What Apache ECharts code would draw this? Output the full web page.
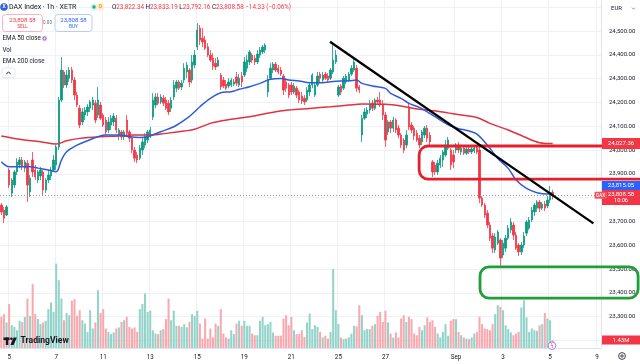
<!DOCTYPE html>
<html><head><meta charset="utf-8">
<script src="https://cdn.jsdelivr.net/npm/echarts@6/dist/echarts.min.js"></script>
<style>html,body{margin:0;padding:0;background:#fff}#c{width:640px;height:364px}</style>
</head><body><div id="c"></div>
<script>
// ---------- DATA: hourly candles [open, close, low, high] per session ----------
const aug04 = [[23769,23740,23727,23777],[23748,23714,23693,23761],[23727,23761,23723,23769]];
const aug05 = [[23916,23853,23840,23924],[23819,23874,23803,23882],[23853,23908,23840,23916],[23908,23950,23895,23966],[23937,23958,23924,23971],[23958,23933,23916,23971],[23924,23950,23908,23958],[23945,23853,23782,23958],[23824,23882,23803,23895]];
const aug06 = [[23958,23908,23887,23992],[23916,23887,23874,23937],[23874,23908,23861,23916],[23891,23916,23874,23929],[23908,23832,23811,23916],[23832,23874,23819,23882],[23874,23895,23861,23916],[23891,23916,23874,23929],[23916,23958,23908,23979]];
const aug07 = [[23937,24013,23916,24021],[24013,24210,24000,24223],[24210,24336,24202,24391],[24328,24273,24260,24336],[24273,24315,24260,24336],[24302,24336,24286,24349],[24336,24294,24281,24349],[24294,24231,24210,24307],[24231,24189,24181,24244]];
const aug08 = [[24176,24105,24092,24189],[24118,24160,24105,24176],[24147,24168,24126,24181],[24160,24181,24143,24193],[24176,24202,24160,24210],[24189,24210,24168,24223],[24197,24126,24113,24210],[24147,24210,24134,24265],[24189,24134,24126,24202]];
const aug11 = [[24147,24105,24097,24155],[24126,24076,24063,24139],[24084,24118,24071,24139],[24105,24134,24084,24147],[24118,24143,24101,24155],[24134,24084,24071,24147],[24063,24084,24042,24092],[24076,24055,24042,24084],[24055,24076,24042,24084]];
const aug12 = [[24126,24071,24055,24147],[24076,24050,24034,24084],[24050,24000,23987,24059],[24000,23966,23950,24013],[23979,23958,23945,23992],[23966,24008,23958,24021],[24000,24034,23979,24050],[24021,24055,24008,24071],[24042,24076,24029,24084]];
const aug13 = [[24063,24084,24050,24097],[24139,24210,24126,24239],[24189,24223,24176,24239],[24223,24197,24189,24239],[24202,24223,24193,24235],[24218,24197,24185,24231],[24210,24176,24168,24223],[24197,24160,24147,24210],[24176,24210,24160,24223]];
const aug14 = [[24223,24273,24210,24294],[24260,24286,24244,24294],[24286,24260,24252,24294],[24265,24281,24252,24294],[24294,24344,24281,24365],[24328,24357,24302,24370],[24336,24286,24265,24344],[24294,24370,24281,24399],[24357,24399,24344,24420]];
const aug15 = [[24433,24504,24420,24533],[24512,24462,24441,24525],[24470,24454,24433,24512],[24462,24428,24420,24479],[24433,24399,24391,24449],[24399,24378,24370,24420],[24386,24353,24336,24407],[24365,24349,24336,24386],[24353,24378,24349,24391]];
const aug18 = [[24315,24265,24252,24323],[24294,24269,24260,24307],[24277,24260,24252,24294],[24269,24286,24260,24302],[24273,24294,24265,24302],[24277,24286,24269,24298],[24307,24281,24269,24328],[24273,24302,24265,24319],[24311,24286,24265,24328]];
const aug19 = [[24315,24370,24307,24391],[24344,24378,24328,24399],[24370,24412,24357,24420],[24399,24378,24365,24407],[24386,24370,24357,24399],[24370,24403,24361,24420],[24399,24420,24386,24433],[24412,24433,24403,24441],[24420,24441,24407,24449]];
const aug20 = [[24244,24294,24223,24315],[24302,24344,24294,24365],[24336,24361,24323,24370],[24361,24336,24328,24370],[24344,24328,24319,24357],[24336,24319,24311,24349],[24311,24252,24231,24319],[24286,24260,24244,24302],[24273,24231,24218,24281]];
const aug21 = [[24273,24244,24231,24286],[24244,24269,24235,24281],[24260,24231,24218,24269],[24244,24210,24197,24252],[24227,24206,24193,24244],[24218,24202,24189,24231],[24210,24252,24202,24265],[24244,24273,24227,24286],[24273,24315,24260,24323]];
const aug22 = [[24231,24273,24223,24286],[24273,24311,24265,24328],[24319,24302,24286,24328],[24294,24315,24286,24328],[24319,24302,24294,24328],[24311,24294,24286,24323],[24302,24336,24294,24344],[24328,24378,24319,24441],[24370,24399,24361,24420]];
const aug25 = [[24231,24265,24223,24273],[24269,24244,24231,24277],[24260,24302,24252,24311],[24286,24311,24277,24319],[24294,24319,24286,24328],[24319,24344,24311,24357],[24336,24370,24328,24386],[24344,24260,24244,24357],[24265,24252,24239,24273]];
const aug26 = [[24063,24134,24034,24147],[24134,24160,24126,24176],[24151,24168,24134,24181],[24168,24193,24155,24210],[24197,24176,24164,24210],[24176,24210,24168,24218],[24210,24202,24189,24223],[24210,24189,24181,24244],[24193,24147,24126,24210]];
const aug27 = [[24147,24042,24013,24160],[24076,24118,24063,24126],[24118,24092,24071,24126],[24092,24126,24076,24139],[24126,24084,24071,24134],[24092,24063,24050,24105],[24063,24021,24008,24071],[24042,24000,23987,24050],[24021,24063,24008,24084]];
const aug28 = [[24181,24097,24084,24197],[24105,24084,24071,24118],[24092,24059,24042,24101],[24071,24042,24034,24084],[24050,24021,24008,24063],[24034,24076,24021,24084],[24063,24092,24050,24101],[24092,24050,24034,24105],[24063,24034,24013,24076]];
const aug29 = [[23950,23908,23887,23958],[23937,23908,23895,23950],[23908,23945,23895,23958],[23937,23966,23924,23979],[23958,23992,23929,24000],[23979,24021,23971,24042],[24008,24042,24000,24055],[24000,23937,23916,24008],[23979,23950,23924,24000]];
const sep01 = [[24000,24021,23987,24029],[24021,24000,23987,24034],[23992,24008,23979,24017],[24008,23987,23979,24017],[23987,24004,23979,24013],[24004,23992,23983,24017],[23992,24004,23983,24013],[23996,24008,23987,24021],[24008,23992,23983,24017]];
const sep02 = [[24000,23798,23777,24013],[23798,23769,23761,23807],[23769,23727,23714,23777],[23735,23685,23672,23748],[23685,23630,23618,23698],[23639,23588,23567,23651],[23580,23635,23567,23651],[23609,23656,23601,23664],[23622,23546,23509,23630]];
const sep03 = [[23559,23609,23546,23622],[23588,23630,23572,23643],[23630,23672,23622,23685],[23664,23698,23651,23714],[23685,23643,23622,23698],[23643,23588,23580,23656],[23601,23572,23555,23609],[23572,23601,23559,23614],[23601,23639,23588,23656]];
const sep04 = [[23651,23698,23639,23706],[23672,23706,23664,23719],[23706,23748,23698,23761],[23740,23769,23723,23777],[23756,23782,23740,23790],[23782,23756,23740,23790],[23756,23773,23748,23782],[23773,23756,23744,23786],[23765,23790,23756,23807]];
const sep05 = [[23790,23822,23777,23849],[23822.34,23808.58,23792.16,23833.19]];

// ---------- DATA: volume (millions) per bar, by week ----------
const volWk1 = [5.6,6.1,4.6,7.9,4.1,3.8,3.2,4.9,4.7,5.6,8.9,5.8,11.5,6.1,5.2,4.3,4.6,4.9,7.0,8.2,6.5,15.2,12.2,8.9,5.0,6.3,5.9,8.5,8.8,5.8,6.8,5.0,4.4,2.9,6.8,3.5,4.6,10.4,6.3];
const volWk2 = [7.0,3.5,2.9,2.5,2.8,3.5,3.7,4.7,5.0,5.6,3.8,3.5,3.7,2.9,7.0,7.9,9.8,6.5,6.7,3.2,2.6,2.5,3.2,3.4,5.2,8.9,5.0,6.7,4.0,4.0,3.8,4.3,3.7,4.7,6.1,5.8,6.7,4.4,1.7,5.3,1.7,3.5,1.9,4.4,4.0];
const volWk3 = [7.0,2.6,1.9,1.7,3.2,2.5,4.4,4.9,4.0,4.9,4.0,4.0,2.6,2.3,2.3,4.9,5.6,4.1,4.3,4.7,2.8,2.2,2.2,2.2,5.3,5.9,4.1,5.6,3.2,2.5,2.5,3.2,2.0,4.6,6.2,3.4,4.1,3.8,2.9,1.9,2.2,1.7,2.9,14.2,6.8];
const volWk4 = [4.3,1.9,1.6,1.7,1.9,2.6,4.0,3.9,7.7,5.9,3.2,3.4,3.4,4.0,4.3,5.8,6.5,4.7,6.7,4.6,2.6,1.9,2.8,1.9,5.3,5.9,4.7,5.6,5.2,2.6,2.3,3.8,3.2,4.1,5.5,4.7,5.0,3.8,2.6,1.9,2.9,4.3,2.2,4.9,5.2];
const volWk5 = [5.2,2.9,2.3,1.9,1.7,1.6,1.9,2.6,2.9,5.6,4.3,3.5,3.4,3.2,4.3,6.1,7.7,7.4,6.8,4.1,3.4,2.8,2.3,2.6,2.9,7.3,8.6,5.5,2.9,3.5,3.2,3.1,4.1,4.3,6.3,5.3,5.0,1.43];

// ---------- DATA: EMA readings [barIndex, value] ----------
const ema50Pts = [[0,23951],[3,23930],[7,23930],[11,23930],[14,23924],[18,23916],[21,23909],[23,23958],[25,23993],[29,24021],[33,24039],[37,24056],[40,24063],[45,24063],[49,24056],[53,24053],[56,24056],[61,24077],[66,24098],[71,24133],[74,24161],[76,24182],[80,24217],[84,24241],[88,24245],[91,24255],[95,24266],[99,24280],[103,24297],[107,24301],[110,24294],[114,24290],[118,24283],[122,24283],[126,24287],[130,24290],[133,24291],[136,24294],[138,24280],[142,24269],[147,24259],[149,24238],[153,24217],[156,24196],[160,24179],[164,24154],[168,24126],[172,24101],[176,24087],[179,24080],[182,24067],[186,24021],[190,23965],[194,23923],[197,23874],[201,23839],[205,23821],[209,23815],[211,23815.05]];
const ema200Pts = [[0,24059],[7,24045],[15,24035],[21,24025],[25,24039],[30,24049],[38,24056],[45,24059],[50,24063],[57,24063],[63,24070],[70,24080],[74,24087],[80,24112],[88,24129],[95,24140],[103,24157],[110,24168],[118,24175],[126,24182],[133,24189],[138,24193],[147,24192],[153,24185],[160,24171],[168,24161],[176,24147],[182,24137],[187,24112],[194,24084],[200,24056],[206,24031],[211,24027.36]];

// ---------- DATA: drawings (bar index, price) ----------
const trendLine = [[125.8,24455],[226.6,23692]];
const redZone = [159.9,24017,248.3,23878];
const greenZone = [183.2,23509,243.7,23378];

// ---------- DATA: sessions & tick labels ----------
const sessionDays = ['08-04','08-05','08-06','08-07','08-08','08-11','08-12','08-13','08-14','08-15','08-18','08-19','08-20','08-21','08-22','08-25','08-26','08-27','08-28','08-29','09-01','09-02','09-03','09-04','09-05','09-08','09-09'];
const tickLabels = {'08-05':'5','08-07':'7','08-11':'11','08-13':'13','08-15':'15','08-19':'19','08-21':'21','08-25':'25','08-27':'27','09-01':'Sep','09-03':'3','09-05':'5','09-09':'9'};
const changeText = '\u221214.33 (\u22120.06%)';
const countdown = '10:06';

// ---------- build ----------
const cats = [];
sessionDays.forEach(d => { const h0 = d === '08-04' ? 15 : 9; const h1 = d === '09-09' ? 10 : 17; for (let h = h0; h <= h1; h++) cats.push(d + ' ' + h); });
const ohlc = [].concat(aug04,aug05,aug06,aug07,aug08,aug11,aug12,aug13,aug14,aug15,aug18,aug19,aug20,aug21,aug22,aug25,aug26,aug27,aug28,aug29,sep01,sep02,sep03,sep04,sep05);
const vols = [].concat(volWk1,volWk2,volWk3,volWk4,volWk5);
const UP = '#089981', DN = '#f23645', UPV = '#93d3c9', DNV = '#f8a9af';
const F = 'Roboto, "Noto Sans", sans-serif';
const fmt = v => v.toLocaleString('en-US',{minimumFractionDigits:2,maximumFractionDigits:2});
const isTick = (i, v) => v.slice(-2) === ' 9' && !!tickLabels[v.slice(0,5)];
const last = ohlc[ohlc.length-1];

const chart = echarts.init(document.getElementById('c'), null, {renderer:'canvas', width:640, height:364});
chart.setOption({
  animation:false, backgroundColor:'#ffffff',
  grid:[{left:0,right:39,top:-16.6,height:380.9,outerBoundsMode:'none',containLabel:false},
        {left:0,right:39,bottom:16,height:100,outerBoundsMode:'none'},
        {left:0,right:39,top:0,bottom:16,outerBoundsMode:'none'}],
  xAxis:[
    {type:'category',gridIndex:0,data:cats,show:false},
    {type:'value',gridIndex:0,min:-0.5,max:cats.length-0.5,show:false},
    {type:'category',gridIndex:1,data:cats,axisLine:{show:false},axisTick:{show:false},splitLine:{show:false},
     axisLabel:{interval:isTick,formatter:v=>tickLabels[v.slice(0,5)]||'',fontSize:6.3,color:'#131722',margin:6,fontFamily:F}},
    {type:'category',gridIndex:2,data:cats,axisLine:{show:true,lineStyle:{color:'#e0e3eb'}},axisTick:{show:false},axisLabel:{show:false},
     splitLine:{show:true,interval:isTick,lineStyle:{color:'#eef1f6',width:1}}}
  ],
  yAxis:[
    {type:'value',gridIndex:0,position:'right',min:23100,max:24700,interval:100,axisLine:{show:false},axisTick:{show:false},
     axisLabel:{margin:8,fontSize:6,color:'#131722',fontFamily:F,formatter:v=>(v>=23200&&v<=24500)?fmt(v):''},
     splitLine:{lineStyle:{color:'#eef1f6',width:1}}},
    {type:'value',gridIndex:1,min:0,max:18,show:false,splitLine:{show:false}},
    {type:'value',gridIndex:2,position:'right',axisLine:{show:true,lineStyle:{color:'#e0e3eb'}},axisLabel:{show:false},axisTick:{show:false},splitLine:{show:false}}
  ],
  series:[
    {type:'bar',xAxisIndex:2,yAxisIndex:1,barWidth:'78%',z:1,
     data:vols.map((v,i)=>({value:v,itemStyle:{color:ohlc[i][1]>=ohlc[i][0]?UPV:DNV}}))},
    {type:'candlestick',xAxisIndex:0,yAxisIndex:0,data:ohlc,barWidth:1.9,z:2,
     itemStyle:{color:UP,color0:DN,borderColor:UP,borderColor0:DN,borderWidth:0.8},
     markLine:{symbol:'none',silent:true,label:{show:false},lineStyle:{type:[1,2],color:'#9598a1',width:1},data:[{yAxis:last[1]}]}},
    {type:'line',xAxisIndex:1,yAxisIndex:0,data:ema200Pts,smooth:0.35,showSymbol:false,z:3,lineStyle:{color:'#e0323f',width:1.5}},
    {type:'line',xAxisIndex:1,yAxisIndex:0,data:ema50Pts,smooth:0.35,showSymbol:false,z:3,lineStyle:{color:'#2f5bdb',width:1.5}},
    {type:'line',xAxisIndex:1,yAxisIndex:0,data:trendLine,showSymbol:false,z:6,lineStyle:{color:'#000000',width:2.3}},
    {type:'custom',xAxisIndex:1,yAxisIndex:0,z:6,clip:false,silent:true,
     data:[redZone.concat([0]),greenZone.concat([1])],
     renderItem:(p,api)=>{const a=api.coord([api.value(0),api.value(1)]),b=api.coord([api.value(2),api.value(3)]);
       const col=api.value(4)===0?'#e4202c':'#1f9e3c';
       return {type:'rect',shape:{x:a[0],y:a[1],width:b[0]-a[0],height:b[1]-a[1],r:9},style:{fill:null,stroke:col,lineWidth:2.8}};}}
  ]
});

const yPx = v => chart.convertToPixel({yAxisIndex:0}, v);
const vPx = v => chart.convertToPixel({yAxisIndex:1}, v);
const T = (x,y,text,o) => ({type:'text',x,y,z:100,style:Object.assign({text,fill:'#131722',fontSize:6.3,fontFamily:F,align:'left',verticalAlign:'middle'},o||{})});
const R = (x,y,w,h,o) => ({type:'rect',z:99,shape:{x,y,width:w,height:h,r:(o&&o.r)||0},style:Object.assign({fill:'#fff'},o&&o.style||{})});

const e200 = ema200Pts[ema200Pts.length-1][1], e50 = ema50Pts[ema50Pts.length-1][1];
const yE = yPx(e200), yC = yPx(last[1]), yV = vPx(vols[vols.length-1]);
const g = [
  {type:'circle',z:99,shape:{cx:4,cy:7,r:3.8},style:{fill:'#2f62d8'}},
  T(4,7.2,'X',{fill:'#fff',fontSize:5,fontWeight:'bold',align:'center'}),
  T(9,7,'DAX Index \u00b7 1h \u00b7 XETR',{fontSize:7}),
  {type:'circle',z:99,shape:{cx:94,cy:7,r:3.4},style:{fill:'#d6f1ec'}},
  {type:'circle',z:100,shape:{cx:94,cy:7,r:1.7},style:{fill:'#22ab94'}},
  {type:'circle',z:99,shape:{cx:100.5,cy:7,r:3.8},style:{fill:'#ffecd6'}},
  T(100.5,7.2,'D',{fill:'#ff9800',fontSize:5,fontWeight:'bold',align:'center'}),
  T(112,7,'{k|O}{v|'+fmt(last[0])+'} {k|H}{v|'+fmt(last[3])+'} {k|L}{v|'+fmt(last[2])+'} {k|C}{v|'+fmt(last[1])+'} {v|'+changeText+'}',
    {rich:{k:{fill:'#131722',fontSize:6.3,fontFamily:F},v:{fill:'#f23645',fontSize:6.3,fontFamily:F}}}),
  R(2.5,14.5,40,17,{r:3,style:{fill:'#fff',stroke:'#f5a3aa',lineWidth:0.8}}),
  T(22.5,20,fmt(last[1]),{fill:'#f23645',fontSize:6,align:'center'}),
  T(22.5,27,'SELL',{fill:'#f23645',fontSize:4.8,align:'center'}),
  T(47.5,23,'0.00',{fill:'#6a6d78',fontSize:4.6,align:'center'}),
  R(55,14.5,37,17,{r:3,style:{fill:'#fff',stroke:'#a9bff3',lineWidth:0.8}}),
  T(73.5,20,fmt(last[1]),{fill:'#2962ff',fontSize:6,align:'center'}),
  T(73.5,27,'BUY',{fill:'#2962ff',fontSize:4.8,align:'center'}),
  T(2.5,38.5,'EMA 50 close'),
  {type:'circle',z:99,shape:{cx:44.5,cy:38.5,r:3},style:{fill:'#ece3fb'}},
  {type:'circle',z:100,shape:{cx:44.5,cy:38.5,r:1.6},style:{fill:'none',stroke:'#7e57c2',lineWidth:1}},
  T(2.5,50,'Vol'),
  T(2.5,61,'EMA 200 close'),
  R(2,68,13,9.5,{r:2,style:{fill:'#fff',stroke:'#e0e3eb',lineWidth:0.8}}),
  {type:'polyline',z:100,shape:{points:[[6.3,74.2],[8.5,71.8],[10.7,74.2]]},style:{stroke:'#131722',lineWidth:0.9,fill:null}},
  T(611,8.5,'EUR',{fontSize:6}),
  {type:'polyline',z:100,shape:{points:[[632,7.7],[633.5,9.2],[635,7.7]]},style:{stroke:'#6a6d78',lineWidth:0.7,fill:null}},
  R(602,yE-5.5,38,11,{style:{fill:'#f23645'}}),
  T(621,yE,fmt(e200),{fill:'#fff',fontSize:6,align:'center'}),
  R(602,yC-14.5,38,9,{style:{fill:'#2962ff'}}),
  T(621,yC-10,fmt(e50),{fill:'#fff',fontSize:6,align:'center'}),
  R(602,yC-5.7,38,15,{style:{fill:'#f23645'}}),
  T(621,yC-1.3,fmt(last[1]),{fill:'#fff',fontSize:6,align:'center'}),
  T(621,yC+5.4,countdown,{fill:'#fff',fontSize:5.6,align:'center'}),
  R(594.5,yC-3.8,12.5,7,{r:1,style:{fill:'#f05563'}}),
  T(600.7,yC-0.2,'DAX',{fill:'#fff',fontSize:4.6,align:'center'}),
  R(602,yV-4.5,38,9,{style:{fill:'#f23645'}}),
  T(621,yV,(vols[vols.length-1]).toFixed(2)+'M',{fill:'#fff',fontSize:6,align:'center'}),
  {type:'circle',z:100,shape:{cx:552,cy:345.7,r:3.8},style:{fill:'#fff',stroke:'#b06ad8',lineWidth:0.9}},
  T(552,345.9,'\u03df',{fill:'#9c4fd0',fontSize:5,align:'center'}),
  {type:'circle',z:100,shape:{cx:622,cy:356,r:3.4},style:{fill:'none',stroke:'#131722',lineWidth:0.8}},
  {type:'circle',z:100,shape:{cx:622,cy:356,r:1.2},style:{fill:'none',stroke:'#131722',lineWidth:0.8}},
  {type:'rect',z:100,shape:{x:3.5,y:337.5,width:6,height:2.6},style:{fill:'#131722'}},
  {type:'rect',z:100,shape:{x:5.8,y:337.5,width:2.5,height:7.5},style:{fill:'#131722'}},
  {type:'circle',z:100,shape:{cx:11.4,cy:338.8,r:1.3},style:{fill:'#131722'}},
  {type:'polygon',z:100,shape:{points:[[13.6,337.5],[16.8,337.5],[13.6,345],[10.4,345]]},style:{fill:'#131722'}},
  T(20.5,341.2,'TradingView',{fontSize:8.6,fontWeight:'bold'})
];
chart.setOption({graphic:g});
</script></body></html>
